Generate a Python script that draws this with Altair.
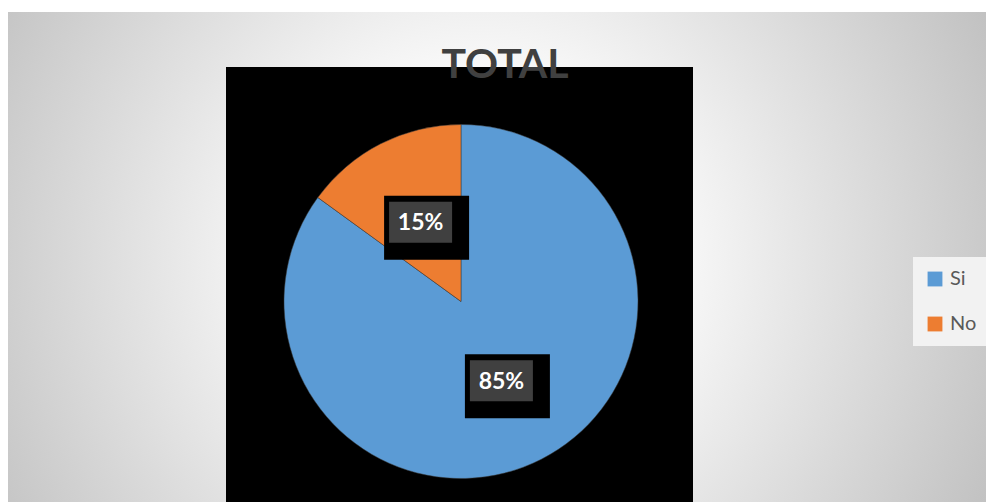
import altair as alt
import pandas as pd

categorias = ["Si", "No"]
valores = [85, 15]
colores = ["#5B9BD5", "#ED7D31"]
titulo = "TOTAL"

df = pd.DataFrame({"categoria": categorias, "valor": valores})

W, H = 978, 490
CX, CY, R = 453, 289.5, 177
RL = 89

bg = alt.Chart(pd.DataFrame({"a": [0]})).mark_rect(
    clip=True,
    color={
        "gradient": "radial",
        "x1": 0.5, "y1": 0.5, "r1": 0,
        "x2": 0.5, "y2": 0.5, "r2": 0.5,
        "stops": [
            {"offset": 0, "color": "#ffffff"},
            {"offset": 0.25, "color": "#ffffff"},
            {"offset": 1, "color": "#bcbcbc"},
        ],
    },
).encode(x=alt.value(472 - 600), x2=alt.value(472 + 600),
         y=alt.value(248 - 600), y2=alt.value(248 + 600))

black = alt.Chart(pd.DataFrame({"a": [0]})).mark_rect(color="black").encode(
    x=alt.value(218), x2=alt.value(685), y=alt.value(55), y2=alt.value(490))

base = alt.Chart(df).transform_joinaggregate(
    total="sum(valor)"
).transform_window(
    cum="sum(valor)", rank="row_number()", frame=[None, 0]
).transform_calculate(
    mid="(datum.cum - datum.valor/2)/datum.total*2*PI",
    pct="datum.valor/datum.total",
).transform_calculate(
    ax=f"{CX} + {RL}*sin(datum.mid)",
    ay=f"{CY} - {RL}*cos(datum.mid)",
).transform_calculate(
    ox1="datum.ax - 36.5", ox2="datum.ax + 48.5",
    oy1="datum.ay - 26.5", oy2="datum.ay + 37.5",
    ix1="datum.ax - 31.5", ix2="datum.ax + 31.5",
    iy1="datum.ay - 20.5", iy2="datum.ay + 20.5",
)

pie = base.mark_arc(outerRadius=R, stroke="#3a3a3a", strokeWidth=0.5).encode(
    theta=alt.Theta("valor:Q", stack=True),
    color=alt.Color(
        "categoria:N",
        scale=alt.Scale(domain=categorias, range=colores),
        legend=alt.Legend(
            title=None, orient="none", legendX=905, legendY=245,
            fillColor="#f2f2f2", padding=12, symbolType="square",
            symbolSize=220, symbolStrokeWidth=0, labelFontSize=20,
            labelFont="Lato", labelColor="#595959", rowPadding=25,
            labelOffset=5,
        ),
    ),
    order=alt.Order("rank:Q"),
    x=alt.value(CX), y=alt.value(CY),
)

outer = base.mark_rect(color="black").encode(
    x=alt.X("ox1:Q", scale=None), x2="ox2:Q",
    y=alt.Y("oy1:Q", scale=None), y2="oy2:Q",
)
inner = base.mark_rect(color="#404040").encode(
    x=alt.X("ix1:Q", scale=None), x2="ix2:Q",
    y=alt.Y("iy1:Q", scale=None), y2="iy2:Q",
)
labels = base.mark_text(
    color="white", font="Lato", fontWeight="bold", fontSize=23,
    baseline="middle", align="center", dy=1,
).encode(
    x=alt.X("ax:Q", scale=None), y=alt.Y("ay:Q", scale=None),
    text=alt.Text("pct:Q", format=".0%"),
)

title = alt.Chart(pd.DataFrame({"t": [titulo]})).mark_text(
    font="Lato", fontWeight="bold", fontSize=41, color="#404040",
    align="center", baseline="alphabetic",
).encode(x=alt.value(497), y=alt.value(66), text="t:N")

chart = alt.layer(bg, black, pie, outer, inner, labels, title).properties(
    width=W, height=H,
    padding={"left": 8, "top": 12, "right": 0, "bottom": 0},
    autosize=alt.AutoSizeParams(type="none"),
    background="white",
).configure_view(stroke="#bfbfbf", strokeWidth=1)

chart.save("out.html", embed_options={"renderer": "svg", "actions": False})
